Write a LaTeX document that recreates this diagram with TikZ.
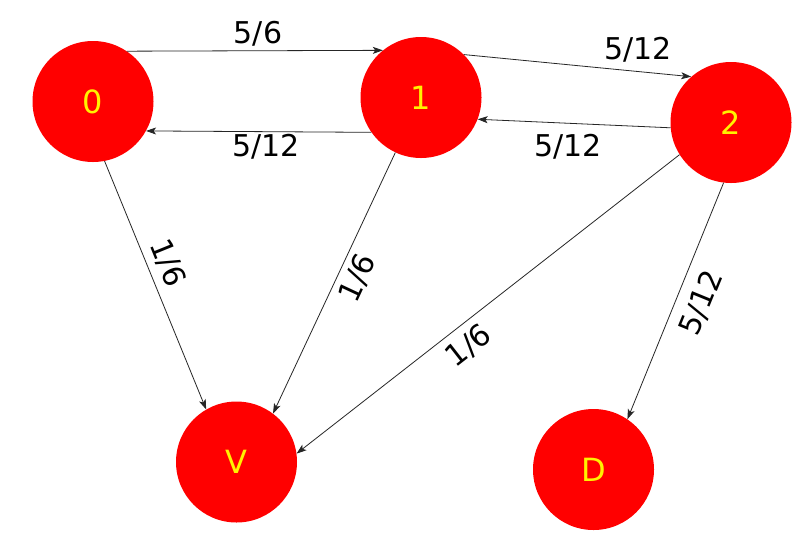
\documentclass[tikz,border=0pt]{standalone}
\usepackage{fontspec}
\setmainfont{DejaVu Sans}
\usetikzlibrary{arrows.meta}
\begin{document}
\begin{tikzpicture}[x=1pt,y=-1pt,
  state/.style={circle,fill=red,draw=none,minimum size=121pt,inner sep=0pt,
    text=yellow,font=\fontsize{32}{36}\selectfont},
  conn/.style={draw=black!85,line width=0.8pt,-{Stealth[length=10pt,width=7pt,inset=2.5pt]}},
  lbl/.style={font=\fontsize{30}{36}\selectfont,inner sep=0pt,text=black}]
\useasboundingbox[fill=white] (0,0) rectangle (800,558);
\node[state] (n0) at (93,101.5) {0};
\node[state] (n1) at (421,97.5) {1};
\node[state] (n2) at (731,122.5) {2};
\node[state] (nV) at (236.5,462) {V};
\node[state] (nD) at (593.5,469.5) {D};

\draw[conn] (n0.56) -- (n1.129);
\draw[conn] (n1.215) -- (n0.-29);
\draw[conn] (n1.45) -- (n2.131);
\draw[conn] (n2.185) -- (n1.-21);
\draw[conn] (n0.-79) -- (nV.120);
\draw[conn] (n1.245) -- (nV.53);
\draw[conn] (n2.212) -- (nV.8);
\draw[conn] (n2.263) -- (nD.56);

\node[lbl] (l01) at (258,34) {5/6};
\node[lbl] (l10) at (266,147) {5/12};
\node[lbl] (l12) at (638,50) {5/12};
\node[lbl] (l21) at (568,147) {5/12};
\node[lbl,rotate=-67.9] (l0V) at (168,263) {1/6};
\node[lbl,rotate=65] (l1V) at (357.7,278) {1/6};
\node[lbl,rotate=38] (l2V) at (469,345.5) {1/6};
\node[lbl,rotate=67.8] (l2D) at (701.5,303) {5/12};
\end{tikzpicture}
\end{document}
